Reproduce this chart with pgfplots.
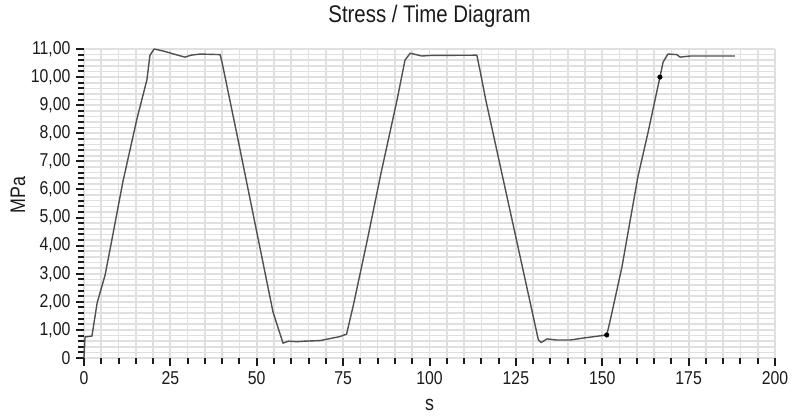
\documentclass[border=0pt]{standalone}
\usepackage{fontspec}
\setmainfont[FakeStretch=0.85]{Liberation Sans}
\usepackage{pgfplots}
\pgfplotsset{compat=1.18}
\definecolor{gridc}{HTML}{E0E0E0}
\definecolor{linec}{HTML}{505050}
\definecolor{tickc}{HTML}{1A1A1A}
\begin{document}
\begin{tikzpicture}
\useasboundingbox (-84pt,-59pt) rectangle (709pt,358pt);
\begin{axis}[
  scale only axis,
  width=691pt, height=309pt,
  xmin=0, xmax=200, ymin=0, ymax=11,
  axis lines*=left,
  axis line style={draw=none},
  tick align=outside,
  xtick={0,25,...,200},
  ytick={0,1,...,11},
  yticklabels={0,{1,00},{2,00},{3,00},{4,00},{5,00},{6,00},{7,00},{8,00},{9,00},{10,00},{11,00}},
  minor x tick num=4,
  minor y tick num=4,
  major tick length=8pt,
  minor tick length=6pt,
  every tick/.style={tickc, line width=2pt},
  grid=both,
  major grid style={gridc, line width=1.8pt},
  minor grid style={gridc, line width=1.6pt},
  /pgf/number format/assume math mode=true,
  tick label style={font=\fontsize{18.6}{21}\selectfont, text=tickc},
  xticklabel style={yshift=-2pt},
  yticklabel style={xshift=-2pt},
  title={Stress / Time Diagram},
  title style={font=\fontsize{24}{28}\selectfont, text=tickc, at={(axis description cs:0.5,1.088)}, anchor=center},
  xlabel={s},
  xlabel style={font=\fontsize{21}{24}\selectfont, text=tickc, at={(axis description cs:0.5,-0.152)}, anchor=center},
  ylabel={MPa},
  ylabel style={font=\fontsize{21}{24}\selectfont, text=tickc, at={(axis description cs:-0.0955,0.527)}, anchor=center, rotate=0},
  clip=false,
]
\addplot[linec, line width=1.4pt, line join=round] coordinates {
(0,0) (0.3,0.75) (2.3,0.78) (3.8,1.96) (6.1,2.95) (7.5,3.84) (11.3,6.3) (15.3,8.5) (18.2,9.9) (19.1,10.78) (20.3,11.0) (22.9,10.93) (26,10.82) (29.2,10.71) (31,10.78) (33.6,10.82) (39.4,10.8) (40,10.5) (44.6,7.76) (54.7,1.64) (57.6,0.53) (59.2,0.6) (61.6,0.58) (64,0.6) (68.3,0.62) (74,0.76) (76,0.85) (78,1.9) (82,4.2) (86,6.6) (90.6,9.18) (92.9,10.6) (94.4,10.85) (97.8,10.75) (100.1,10.77) (113.7,10.78) (114.6,10.25) (116.3,9.18) (131.5,0.65) (132.3,0.55) (134,0.68) (136.9,0.64) (140.7,0.64) (144.5,0.71) (151.3,0.82) (152.2,1.28) (155.7,3.24) (160.3,6.44) (163.2,8.0) (166.7,10.0) (167.6,10.53) (169.0,10.82) (171.6,10.8) (172.5,10.71) (175.4,10.75) (188.4,10.75)
};
\addplot[only marks, mark=*, mark size=2.3pt, black] coordinates {(151.3,0.82) (166.7,10.0)};
\end{axis}
\end{tikzpicture}
\end{document}
